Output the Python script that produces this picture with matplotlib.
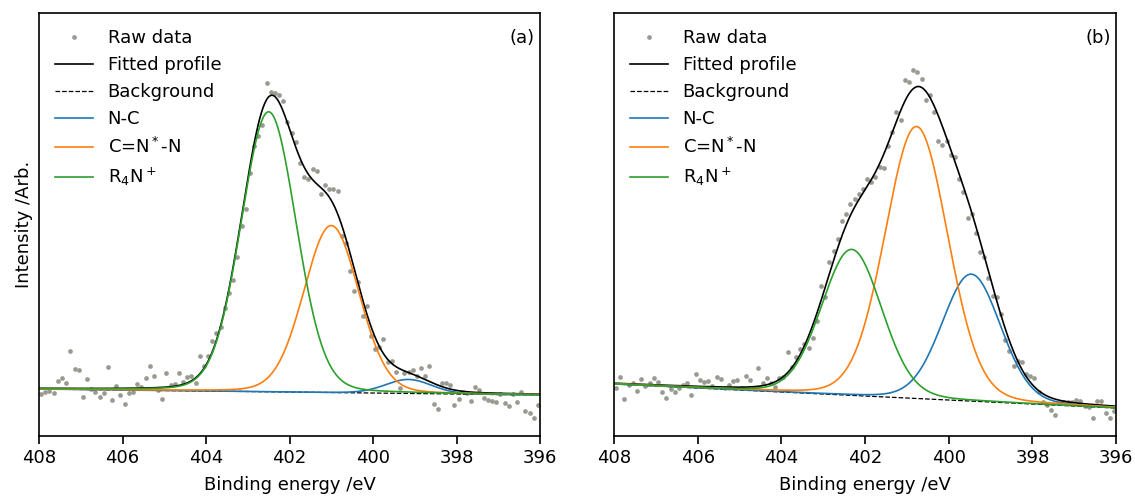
import numpy as np
import matplotlib.pyplot as plt

# Binding energy grid of the scan (0.1 eV step)
energy = np.round(407.95 - 0.1 * np.arange(120), 2)

# Raw counts (arb.)
raw_a = [42, 44, 45, 43, 55, 58, 53, 85, 67, 66,
         39, 57, 47, 44, 39, 43, 69, 36, 50, 41,
         32, 43, 44, 52, 49, 58, 70, 60, 46, 37,
         63, 51, 52, 63, 54, 59, 60, 53, 80, 70,
         80, 95, 103, 109, 128, 143, 156, 179, 210, 227,
         263, 290, 300, 311, 353, 344, 343, 341, 335, 314,
         303, 294, 273, 259, 257, 267, 265, 242, 251, 247,
         247, 245, 200, 193, 165, 145, 154, 120, 130, 100,
         87, 89, 97, 74, 75, 64, 48, 63, 64, 66,
         60, 68, 60, 70, 32, 27, 53, 53, 51, 31,
         37, 44, 43, 35, 49, 46, 38, 36, 35, 34,
         42, 33, 30, 42, 34, 44, 25, 23, 18, 31]

raw_b = [48, 59, 37, 51, 53, 45, 57, 50, 53, 58,
         54, 44, 38, 47, 44, 48, 51, 53, 41, 62,
         56, 54, 55, 50, 59, 57, 48, 51, 55, 56,
         48, 60, 56, 48, 68, 53, 58, 53, 49, 58,
         59, 84, 69, 79, 87, 92, 88, 98, 115, 150,
         139, 174, 185, 197, 215, 222, 232, 237, 242, 247,
         257, 254, 259, 269, 268, 290, 304, 324, 316, 356,
         354, 366, 364, 357, 336, 341, 324, 295, 291, 295,
         281, 279, 257, 244, 218, 222, 203, 184, 179, 158,
         140, 139, 122, 96, 85, 70, 75, 74, 62, 60,
         58, 44, 34, 31, 26, 21, 33, 34, 34, 34,
         36, 35, 30, 29, 18, 35, 35, 23, 18, 25]

# Fitted components: N-C, C=N*-N, R4N+
labels = ['N-C', r'C=N$^*$-N', r'R$_4$N$^+$']
colors = ['tab:blue', 'tab:orange', 'tab:green']

centers_a = [399.15, 401.0, 402.5]
heights_a = [14, 167, 280]
sigmas_a = [0.55, 0.66, 0.66]
bg_a = [47, 41]          # linear background at 408 eV and 396 eV

centers_b = [399.46, 400.77, 402.32]
heights_b = [127, 272, 146]
sigmas_b = [0.70, 0.75, 0.72]
bg_b = [52, 28]

eta = 0.1  # Lorentzian fraction of the pseudo-Voigt


def pseudo_voigt(x, c, h, s):
    fwhm = 2.3548 * s
    g = np.exp(-(x - c) ** 2 / (2 * s ** 2))
    l = 1 / (1 + ((x - c) / (fwhm / 2)) ** 2)
    return h * ((1 - eta) * g + eta * l)


fig = plt.figure(figsize=(11.35, 4.97), dpi=100)
ax_a = fig.add_axes([0.0344, 0.1227, 0.4414, 0.852])
ax_b = fig.add_axes([0.541, 0.1227, 0.4423, 0.852])

xfit = np.linspace(408, 396, 600)

panels = [(ax_a, raw_a, centers_a, heights_a, sigmas_a, bg_a, '(a)'),
          (ax_b, raw_b, centers_b, heights_b, sigmas_b, bg_b, '(b)')]

for ax, raw, cen, hei, sig, bg, tag in panels:
    background = np.interp(xfit, [396, 408], [bg[1], bg[0]])
    peaks = [pseudo_voigt(xfit, c, h, s) for c, h, s in zip(cen, hei, sig)]
    total = background + sum(peaks)

    ax.plot(energy, raw, 'o', color='#9a9a92', ms=3.4, mec='none', label='Raw data')
    ax.plot(xfit, total, color='black', lw=1.2, label='Fitted profile')
    ax.plot(xfit, background, color='black', ls='--', lw=0.9, label='Background')
    for p, lab, col in zip(peaks, labels, colors):
        ax.plot(xfit, background + p, color=col, lw=1.2, label=lab)

    ax.set_xlim(408, 396)
    ax.set_ylim(0, 423.5)
    ax.set_xticks([408, 406, 404, 402, 400, 398, 396])
    ax.set_yticks([])
    ax.tick_params(axis='x', labelsize=13, length=5.5, width=1.2)
    for sp in ax.spines.values():
        sp.set_linewidth(1.2)
    ax.set_xlabel('Binding energy /eV', fontsize=13, labelpad=7)
    ax.text(0.99, 0.94, tag, transform=ax.transAxes, ha='right', va='center', fontsize=13)
    ax.legend(loc='upper left', frameon=False, fontsize=13, handlelength=2.1)

ax_a.set_ylabel('Intensity /Arb.', fontsize=13)

plt.savefig('out.png', dpi=100)
